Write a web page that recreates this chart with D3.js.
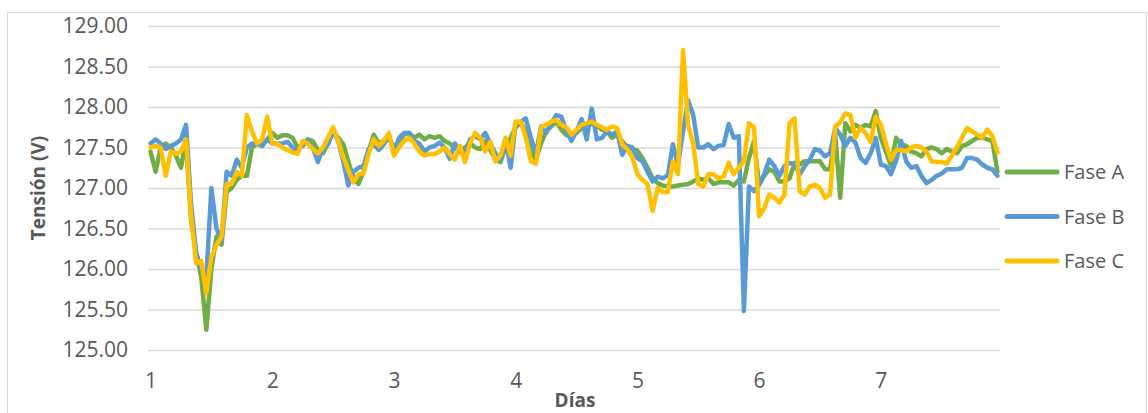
<!DOCTYPE html>
<html>
<head>
<meta charset="utf-8">
<script src="https://cdn.jsdelivr.net/npm/d3@7"></script>
<style>
  body { margin: 0; background: #fff; }
  text { font-family: "Open Sans", "Liberation Sans", sans-serif; fill: #595959; }
</style>
</head>
<body>
<svg width="1148" height="413"></svg>
<script>
// hourly readings, 24 per day
var faseA = [
  127.45, 127.2, 127.5, 127.55, 127.5, 127.4, 127.25, 127.6, 126.6, 126.2, 125.9, 125.25, 126.0, 126.4, 126.3, 126.95, 127.0, 127.1, 127.15, 127.15, 127.5, 127.55, 127.52, 127.6, 127.68, 127.62, 127.65, 127.65,
  127.62, 127.5, 127.52, 127.6, 127.58, 127.47, 127.43, 127.55, 127.7, 127.62, 127.54, 127.33, 127.12, 127.05, 127.2, 127.45, 127.66, 127.55, 127.58, 127.62, 127.5, 127.58, 127.66, 127.68, 127.62, 127.66, 127.6, 127.64,
  127.62, 127.64, 127.58, 127.55, 127.5, 127.45, 127.5, 127.56, 127.5, 127.48, 127.58, 127.47, 127.35, 127.32, 127.5, 127.62, 127.75, 127.8, 127.7, 127.45, 127.35, 127.55, 127.7, 127.76, 127.82, 127.72, 127.65,
  127.66, 127.68, 127.74, 127.79, 127.79, 127.77, 127.72, 127.7, 127.62, 127.66, 127.58, 127.5, 127.48, 127.46, 127.37, 127.25, 127.12, 127.06, 127.03, 127.02, 127.02, 127.03, 127.04, 127.05, 127.08, 127.12, 127.1, 127.12,
  127.05, 127.07, 127.07, 127.07, 127.03, 127.1, 127.08, 127.37, 127.58, 127.04, 127.15, 127.23, 127.2, 127.08, 127.08, 127.12, 127.31, 127.29, 127.33, 127.33, 127.33, 127.33, 127.23, 127.23, 127.66, 126.88, 127.8, 127.7,
  127.78, 127.74, 127.78, 127.76, 127.95, 127.62, 127.45, 127.27, 127.62, 127.54, 127.52, 127.45, 127.43, 127.39, 127.48, 127.5, 127.48, 127.43, 127.48, 127.45, 127.43, 127.52, 127.54, 127.58, 127.62, 127.62, 127.6, 127.58, 127.2
];
var faseB = [
  127.55, 127.6, 127.55, 127.48, 127.52, 127.55, 127.6, 127.78, 126.8, 126.2, 126.0, 125.9, 127.0, 126.5, 126.35, 127.2, 127.15, 127.35, 127.25, 127.5, 127.55, 127.55, 127.52, 127.6, 127.55, 127.55, 127.55, 127.57,
  127.5, 127.45, 127.54, 127.58, 127.5, 127.32, 127.5, 127.54, 127.7, 127.58, 127.33, 127.03, 127.2, 127.25, 127.27, 127.48, 127.54, 127.47, 127.54, 127.64, 127.45, 127.62, 127.68, 127.68, 127.58, 127.55, 127.45, 127.5,
  127.52, 127.56, 127.5, 127.36, 127.55, 127.47, 127.43, 127.6, 127.64, 127.6, 127.68, 127.55, 127.43, 127.35, 127.6, 127.25, 127.8, 127.82, 127.86, 127.62, 127.42, 127.76, 127.68, 127.8, 127.9, 127.88, 127.7,
  127.58, 127.7, 127.85, 127.6, 127.98, 127.6, 127.62, 127.7, 127.66, 127.7, 127.41, 127.52, 127.5, 127.37, 127.33, 127.2, 127.08, 127.14, 127.12, 127.16, 127.54, 127.28, 127.7, 128.08, 127.9, 127.5, 127.5, 127.54,
  127.48, 127.52, 127.53, 127.79, 127.62, 127.64, 125.48, 127.02, 126.96, 127.04, 127.17, 127.35, 127.27, 127.15, 127.27, 127.31, 127.29, 127.17, 127.27, 127.35, 127.48, 127.46, 127.39, 127.43, 127.74, 127.66, 127.52, 127.62,
  127.56, 127.37, 127.31, 127.43, 127.62, 127.29, 127.27, 127.17, 127.33, 127.58, 127.33, 127.25, 127.27, 127.15, 127.06, 127.1, 127.15, 127.18, 127.23, 127.23, 127.23, 127.25, 127.37, 127.37, 127.35, 127.29, 127.25, 127.23, 127.15
];
var faseC = [
  127.5, 127.52, 127.5, 127.15, 127.45, 127.42, 127.45, 127.6, 126.65, 126.07, 126.1, 125.7, 126.15, 126.3, 126.4, 127.05, 127.05, 127.2, 127.15, 127.9, 127.7, 127.55, 127.6, 127.88, 127.55, 127.55, 127.5, 127.47,
  127.44, 127.42, 127.58, 127.55, 127.48, 127.43, 127.5, 127.62, 127.75, 127.58, 127.38, 127.22, 127.07, 127.17, 127.18, 127.42, 127.6, 127.52, 127.58, 127.68, 127.4, 127.5, 127.58, 127.62, 127.55, 127.45, 127.4, 127.42,
  127.42, 127.45, 127.5, 127.42, 127.35, 127.52, 127.32, 127.55, 127.68, 127.62, 127.45, 127.57, 127.33, 127.4, 127.62, 127.4, 127.82, 127.82, 127.62, 127.33, 127.3, 127.75, 127.78, 127.82, 127.84, 127.78, 127.75,
  127.66, 127.72, 127.78, 127.8, 127.82, 127.78, 127.75, 127.72, 127.76, 127.74, 127.54, 127.48, 127.38, 127.17, 127.1, 127.05, 126.72, 127.0, 126.95, 126.95, 127.33, 127.17, 128.7, 127.78, 127.55, 127.05, 127.02, 127.17,
  127.17, 127.12, 127.14, 127.31, 127.17, 127.25, 127.33, 127.8, 127.75, 126.65, 126.75, 126.92, 126.88, 126.82, 126.92, 127.8, 127.86, 126.96, 126.92, 127.02, 127.04, 127.0, 126.88, 126.92, 127.76, 127.81, 127.92, 127.9,
  127.62, 127.74, 127.68, 127.57, 127.88, 127.78, 127.55, 127.35, 127.47, 127.47, 127.45, 127.5, 127.52, 127.5, 127.45, 127.33, 127.32, 127.32, 127.3, 127.4, 127.5, 127.62, 127.74, 127.7, 127.66, 127.62, 127.72, 127.64, 127.44
];
var dayLabels = [1, 2, 3, 4, 5, 6, 7];
var yTicks = [125, 125.5, 126, 126.5, 127, 127.5, 128, 128.5, 129];

var series = [
  { name: "Fase A", color: "#70AD47", values: faseA },
  { name: "Fase B", color: "#5B9BD5", values: faseB },
  { name: "Fase C", color: "#FFC000", values: faseC }
];

var svg = d3.select("svg");

// chart frame
svg.append("rect")
    .attr("x", 7.5).attr("y", 12.5)
    .attr("width", 1139).attr("height", 420)
    .attr("fill", "none")
    .attr("stroke", "#d9d9d9");

var x = d3.scalePoint()
    .domain(d3.range(faseA.length))
    .range([148, 1000])
    .padding(0.5);

var y = d3.scaleLinear()
    .domain([125, 129])
    .range([350, 26]);

// gridlines
svg.append("g")
    .attr("transform", "translate(148,0)")
    .call(d3.axisLeft(y).tickValues(yTicks).tickSize(-852).tickFormat(""))
    .call(function(g) { g.select(".domain").remove(); })
    .selectAll("line")
      .attr("stroke", "#d9d9d9")
      .attr("stroke-width", 1.5);

// y labels
svg.append("g")
    .attr("transform", "translate(128,0)")
    .call(d3.axisLeft(y).tickValues(yTicks).tickSize(0).tickPadding(0).tickFormat(d3.format(".2f")))
    .call(function(g) { g.select(".domain").remove(); })
    .selectAll("text")
      .attr("font-size", 21)
      .attr("font-family", null)
      .attr("fill", "#595959");

// x labels, one per day
svg.append("g")
    .attr("transform", "translate(0,370)")
    .call(d3.axisBottom(x)
      .tickValues(dayLabels.map(function(d) { return (d - 1) * 24; }))
      .tickSize(0)
      .tickFormat(function(i) { return i / 24 + 1; }))
    .call(function(g) { g.select(".domain").remove(); })
    .selectAll("text")
      .attr("font-size", 21)
      .attr("font-family", null)
      .attr("fill", "#595959");

var line = d3.line()
    .x(function(d, i) { return x(i); })
    .y(function(d) { return y(d); });

svg.append("g")
  .selectAll("path")
  .data(series)
  .enter().append("path")
    .attr("d", function(d) { return line(d.values); })
    .attr("fill", "none")
    .attr("stroke", function(d) { return d.color; })
    .attr("stroke-width", 4.5)
    .attr("stroke-linejoin", "round")
    .attr("stroke-linecap", "round");

// axis titles
svg.append("text")
    .attr("transform", "translate(45,188) rotate(-90)")
    .attr("text-anchor", "middle")
    .attr("font-size", 19)
    .attr("font-weight", "bold")
    .text("Tensión (V)");

svg.append("text")
    .attr("x", 575)
    .attr("y", 407)
    .attr("text-anchor", "middle")
    .attr("font-size", 19)
    .attr("font-weight", "bold")
    .text("Días");

// legend
var legend = svg.append("g")
  .selectAll("g")
  .data(series)
  .enter().append("g")
    .attr("transform", function(d, i) { return "translate(1005," + (172 + i * 44.5) + ")"; });

legend.append("line")
    .attr("x1", 2).attr("x2", 52)
    .attr("stroke", function(d) { return d.color; })
    .attr("stroke-width", 5)
    .attr("stroke-linecap", "round");

legend.append("text")
    .attr("x", 59)
    .attr("dy", "0.35em")
    .attr("font-size", 20)
    .text(function(d) { return d.name; });
</script>
</body>
</html>
